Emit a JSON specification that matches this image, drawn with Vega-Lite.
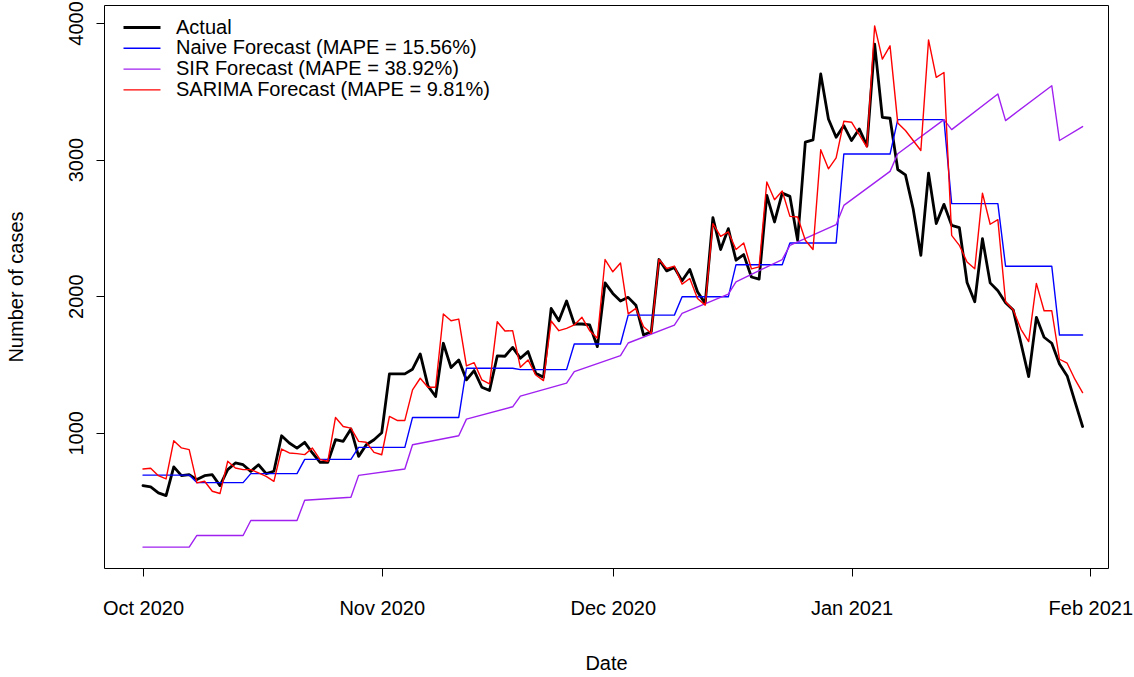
{
"$schema": "https://vega.github.io/schema/vega-lite/v6.json",
"width": 1004, "height": 563,
"autosize": "none",
"padding": {"left": 104, "top": 5, "right": 26, "bottom": 109},
"background": "white",
"config": {
  "view": {"stroke": "black", "strokeWidth": 1},
  "font": "Liberation Sans",
  "axis": {"grid": false, "domain": false, "tickColor": "black", "tickWidth": 1, "tickSize": 8, "labelColor": "black", "labelFontSize": 20, "labelFont": "Liberation Sans", "titleFont": "Liberation Sans", "titleFontSize": 20, "titleFontWeight": "normal", "titleColor": "black"}
},
"data": {"values": [
{"d":"2020-10-01","Actual":613,"Naive":690,"SARIMA":735,"SIR":163},
{"d":"2020-10-02","Actual":603,"Naive":690,"SARIMA":740},
{"d":"2020-10-03","Actual":560,"Naive":690,"SARIMA":686},
{"d":"2020-10-04","Actual":540,"Naive":690,"SARIMA":662},
{"d":"2020-10-05","Actual":750,"Naive":690,"SARIMA":942},
{"d":"2020-10-06","Actual":686,"Naive":690,"SARIMA":889},
{"d":"2020-10-07","Actual":693,"Naive":690,"SARIMA":876,"SIR":163},
{"d":"2020-10-08","Actual":657,"Naive":635,"SARIMA":633,"SIR":248},
{"d":"2020-10-09","Actual":686,"Naive":635,"SARIMA":645},
{"d":"2020-10-10","Actual":693,"Naive":635,"SARIMA":572},
{"d":"2020-10-11","Actual":613,"Naive":635,"SARIMA":555},
{"d":"2020-10-12","Actual":730,"Naive":635,"SARIMA":791},
{"d":"2020-10-13","Actual":779,"Naive":635,"SARIMA":742},
{"d":"2020-10-14","Actual":766,"Naive":635,"SARIMA":730,"SIR":248},
{"d":"2020-10-15","Actual":717,"Naive":701,"SARIMA":730,"SIR":358},
{"d":"2020-10-16","Actual":766,"Naive":701,"SARIMA":706},
{"d":"2020-10-17","Actual":701,"Naive":701,"SARIMA":681},
{"d":"2020-10-18","Actual":718,"Naive":701,"SARIMA":644},
{"d":"2020-10-19","Actual":978,"Naive":701,"SARIMA":881},
{"d":"2020-10-20","Actual":925,"Naive":701,"SARIMA":852},
{"d":"2020-10-21","Actual":888,"Naive":701,"SARIMA":847,"SIR":358},
{"d":"2020-10-22","Actual":930,"Naive":805,"SARIMA":840,"SIR":506},
{"d":"2020-10-23","Actual":852,"Naive":805,"SARIMA":888},
{"d":"2020-10-24","Actual":783,"Naive":805,"SARIMA":803},
{"d":"2020-10-25","Actual":783,"Naive":805,"SARIMA":791},
{"d":"2020-10-26","Actual":949,"Naive":805,"SARIMA":1112},
{"d":"2020-10-27","Actual":937,"Naive":805,"SARIMA":1046},
{"d":"2020-10-28","Actual":1027,"Naive":805,"SARIMA":1034,"SIR":528},
{"d":"2020-10-29","Actual":827,"Naive":893,"SARIMA":937,"SIR":688},
{"d":"2020-10-30","Actual":912,"Naive":893,"SARIMA":930},
{"d":"2020-10-31","Actual":949,"Naive":893,"SARIMA":856},
{"d":"2020-11-01","Actual":1000,"Naive":893,"SARIMA":839},
{"d":"2020-11-02","Actual":1431,"Naive":893,"SARIMA":1119},
{"d":"2020-11-03","Actual":1431,"Naive":893,"SARIMA":1090},
{"d":"2020-11-04","Actual":1431,"Naive":893,"SARIMA":1090,"SIR":735},
{"d":"2020-11-05","Actual":1465,"Naive":1112,"SARIMA":1314,"SIR":912},
{"d":"2020-11-06","Actual":1577,"Naive":1112,"SARIMA":1399},
{"d":"2020-11-07","Actual":1343,"Naive":1112,"SARIMA":1333},
{"d":"2020-11-08","Actual":1265,"Naive":1112,"SARIMA":1333},
{"d":"2020-11-09","Actual":1655,"Naive":1112,"SARIMA":1869},
{"d":"2020-11-10","Actual":1477,"Naive":1112,"SARIMA":1820},
{"d":"2020-11-11","Actual":1533,"Naive":1112,"SARIMA":1832,"SIR":978},
{"d":"2020-11-12","Actual":1387,"Naive":1472,"SARIMA":1489,"SIR":1100},
{"d":"2020-11-13","Actual":1455,"Naive":1472,"SARIMA":1513},
{"d":"2020-11-14","Actual":1333,"Naive":1472,"SARIMA":1387},
{"d":"2020-11-15","Actual":1309,"Naive":1472,"SARIMA":1358},
{"d":"2020-11-16","Actual":1562,"Naive":1472,"SARIMA":1813},
{"d":"2020-11-17","Actual":1560,"Naive":1472,"SARIMA":1745},
{"d":"2020-11-18","Actual":1625,"Naive":1472,"SARIMA":1747,"SIR":1190},
{"d":"2020-11-19","Actual":1545,"Naive":1462,"SARIMA":1479,"SIR":1268},
{"d":"2020-11-20","Actual":1594,"Naive":1462,"SARIMA":1533},
{"d":"2020-11-21","Actual":1436,"Naive":1462,"SARIMA":1423},
{"d":"2020-11-22","Actual":1406,"Naive":1462,"SARIMA":1382},
{"d":"2020-11-23","Actual":1910,"Naive":1462,"SARIMA":1818},
{"d":"2020-11-24","Actual":1820,"Naive":1462,"SARIMA":1747},
{"d":"2020-11-25","Actual":1964,"Naive":1462,"SARIMA":1764,"SIR":1363},
{"d":"2020-11-26","Actual":1796,"Naive":1650,"SARIMA":1789,"SIR":1447},
{"d":"2020-11-27","Actual":1796,"Naive":1650,"SARIMA":1845},
{"d":"2020-11-28","Actual":1789,"Naive":1650,"SARIMA":1747},
{"d":"2020-11-29","Actual":1630,"Naive":1650,"SARIMA":1691},
{"d":"2020-11-30","Actual":2097,"Naive":1650,"SARIMA":2268},
{"d":"2020-12-01","Actual":2020,"Naive":1650,"SARIMA":2178},
{"d":"2020-12-02","Actual":1964,"Naive":1650,"SARIMA":2243,"SIR":1565},
{"d":"2020-12-03","Actual":1991,"Naive":1861,"SARIMA":1870,"SIR":1657},
{"d":"2020-12-04","Actual":1934,"Naive":1861,"SARIMA":1910},
{"d":"2020-12-05","Actual":1715,"Naive":1861,"SARIMA":1776},
{"d":"2020-12-06","Actual":1740,"Naive":1861,"SARIMA":1728},
{"d":"2020-12-07","Actual":2268,"Naive":1861,"SARIMA":2268},
{"d":"2020-12-08","Actual":2185,"Naive":1861,"SARIMA":2202},
{"d":"2020-12-09","Actual":2209,"Naive":1861,"SARIMA":2220,"SIR":1788},
{"d":"2020-12-10","Actual":2112,"Naive":1995,"SARIMA":2088,"SIR":1874},
{"d":"2020-12-11","Actual":2195,"Naive":1995,"SARIMA":2129},
{"d":"2020-12-12","Actual":2032,"Naive":1995,"SARIMA":1983},
{"d":"2020-12-13","Actual":1947,"Naive":1995,"SARIMA":1934},
{"d":"2020-12-14","Actual":2575,"Naive":1995,"SARIMA":2531},
{"d":"2020-12-15","Actual":2341,"Naive":1995,"SARIMA":2438},
{"d":"2020-12-16","Actual":2494,"Naive":1995,"SARIMA":2470,"SIR":2015},
{"d":"2020-12-17","Actual":2263,"Naive":2230,"SARIMA":2341,"SIR":2105},
{"d":"2020-12-18","Actual":2304,"Naive":2230,"SARIMA":2389},
{"d":"2020-12-19","Actual":2140,"Naive":2230,"SARIMA":2200},
{"d":"2020-12-20","Actual":2125,"Naive":2230,"SARIMA":2214},
{"d":"2020-12-21","Actual":2737,"Naive":2230,"SARIMA":2835},
{"d":"2020-12-22","Actual":2543,"Naive":2230,"SARIMA":2706},
{"d":"2020-12-23","Actual":2754,"Naive":2230,"SARIMA":2769,"SIR":2268},
{"d":"2020-12-24","Actual":2730,"Naive":2389,"SARIMA":2584,"SIR":2372},
{"d":"2020-12-25","Actual":2409,"Naive":2389,"SARIMA":2579},
{"d":"2020-12-26","Actual":3127,"Naive":2389,"SARIMA":2409},
{"d":"2020-12-27","Actual":3144,"Naive":2389,"SARIMA":2341},
{"d":"2020-12-28","Actual":3626,"Naive":2389,"SARIMA":3071},
{"d":"2020-12-29","Actual":3297,"Naive":2389,"SARIMA":2932},
{"d":"2020-12-30","Actual":3163,"Naive":2389,"SARIMA":3012,"SIR":2523},
{"d":"2020-12-31","Actual":3248,"Naive":3040,"SARIMA":3280,"SIR":2664},
{"d":"2021-01-01","Actual":3139,"Naive":3040,"SARIMA":3273},
{"d":"2021-01-02","Actual":3224,"Naive":3040,"SARIMA":3183},
{"d":"2021-01-03","Actual":3100,"Naive":3040,"SARIMA":3090},
{"d":"2021-01-04","Actual":3845,"Naive":3040,"SARIMA":3978},
{"d":"2021-01-05","Actual":3309,"Naive":3040,"SARIMA":3735},
{"d":"2021-01-06","Actual":3302,"Naive":3040,"SARIMA":3832,"SIR":2913},
{"d":"2021-01-07","Actual":2927,"Naive":3292,"SARIMA":3268,"SIR":3042},
{"d":"2021-01-08","Actual":2888,"Naive":3292,"SARIMA":3212},
{"d":"2021-01-09","Actual":2640,"Naive":3292,"SARIMA":3139},
{"d":"2021-01-10","Actual":2299,"Naive":3292,"SARIMA":3066},
{"d":"2021-01-11","Actual":2900,"Naive":3292,"SARIMA":3876},
{"d":"2021-01-12","Actual":2531,"Naive":3292,"SARIMA":3601},
{"d":"2021-01-13","Actual":2672,"Naive":3292,"SARIMA":3637,"SIR":3292},
{"d":"2021-01-14","Actual":2518,"Naive":2677,"SARIMA":2445,"SIR":3219},
{"d":"2021-01-15","Actual":2501,"Naive":2677,"SARIMA":2372},
{"d":"2021-01-16","Actual":2100,"Naive":2677,"SARIMA":2250},
{"d":"2021-01-17","Actual":1959,"Naive":2677,"SARIMA":2200},
{"d":"2021-01-18","Actual":2421,"Naive":2677,"SARIMA":2754},
{"d":"2021-01-19","Actual":2097,"Naive":2677,"SARIMA":2526},
{"d":"2021-01-20","Actual":2039,"Naive":2677,"SARIMA":2560,"SIR":3480},
{"d":"2021-01-21","Actual":1951,"Naive":2219,"SARIMA":1959,"SIR":3285},
{"d":"2021-01-22","Actual":1898,"Naive":2219,"SARIMA":1898},
{"d":"2021-01-23","Actual":1655,"Naive":2219,"SARIMA":1757},
{"d":"2021-01-24","Actual":1411,"Naive":2219,"SARIMA":1667},
{"d":"2021-01-25","Actual":1845,"Naive":2219,"SARIMA":2093},
{"d":"2021-01-26","Actual":1699,"Naive":2219,"SARIMA":1893},
{"d":"2021-01-27","Actual":1655,"Naive":2219,"SARIMA":1893,"SIR":3540},
{"d":"2021-01-28","Actual":1504,"Naive":1715,"SARIMA":1538,"SIR":3139},
{"d":"2021-01-29","Actual":1416,"Naive":1715,"SARIMA":1509},
{"d":"2021-01-30","Actual":1229,"Naive":1715,"SARIMA":1392},
{"d":"2021-01-31","Actual":1046,"Naive":1715,"SARIMA":1294,"SIR":3241}
]},
"transform": [
  {"fold": ["Actual", "Naive", "SIR", "SARIMA"], "as": ["series", "value"]},
  {"filter": "isValid(datum.value)"}
],
"encoding": {
  "x": {"field": "d", "type": "temporal",
        "scale": {"type": "utc", "domain": [1601073216000, 1612336320000]},
        "axis": {"title": "Date", "values": [1601510400000, 1604188800000, 1606780800000, 1609459200000, 1612137600000], "format": "%b %Y", "labelBaseline": "alphabetic", "labelPadding": 38, "labelAlign": "center", "labelOverlap": false, "titleBaseline": "alphabetic", "titleY": 101}},
  "y": {"field": "value", "type": "quantitative",
        "scale": {"domain": [10, 4131], "nice": false, "zero": false},
        "axis": {"title": "Number of cases", "values": [1000, 2000, 3000, 4000], "format": "d", "labelAngle": -90, "labelAlign": "center", "labelBaseline": "alphabetic", "labelPadding": 14, "labelOverlap": false, "labelBound": false, "titleAngle": -90, "titleBaseline": "alphabetic", "titleX": -82}},
  "color": {"field": "series", "type": "nominal",
        "scale": {"domain": ["Actual", "Naive", "SIR", "SARIMA"], "range": ["#000000", "#0000FF", "#A020F0", "#FF0000"]},
        "legend": {"orient": "none", "legendX": 28, "legendY": 12.5, "title": null, "padding": 0,
                   "symbolType": "M-2,0H2", "symbolSize": 342, "symbolStrokeWidth": 1.4,
                   "labelFontSize": 20, "labelFont": "Liberation Sans", "labelColor": "black", "labelOffset": 24, "labelLimit": 0,
                   "rowPadding": 0.8,
                   "labelExpr": "datum.label == 'Naive' ? 'Naive Forecast (MAPE = 15.56%)' : datum.label == 'SIR' ? 'SIR Forecast (MAPE = 38.92%)' : datum.label == 'SARIMA' ? 'SARIMA Forecast (MAPE = 9.81%)' : datum.label",
                   "encode": {"symbols": {"update": {"strokeWidth": {"signal": "datum.value == 'Actual' ? 2.8 : 1.4"}}}}}}
},
"layer": [
  {"transform": [{"filter": "datum.series == 'Actual'"}], "mark": {"type": "line", "strokeWidth": 2.8, "strokeJoin": "round", "strokeCap": "round"}, "encoding": {}},
  {"transform": [{"filter": "datum.series == 'Naive'"}], "mark": {"type": "line", "strokeWidth": 1.4, "strokeJoin": "round", "strokeCap": "round"}, "encoding": {}},
  {"transform": [{"filter": "datum.series == 'SIR'"}], "mark": {"type": "line", "strokeWidth": 1.4, "strokeJoin": "round", "strokeCap": "round"}, "encoding": {}},
  {"transform": [{"filter": "datum.series == 'SARIMA'"}], "mark": {"type": "line", "strokeWidth": 1.4, "strokeJoin": "round", "strokeCap": "round"}, "encoding": {}}
]
}
